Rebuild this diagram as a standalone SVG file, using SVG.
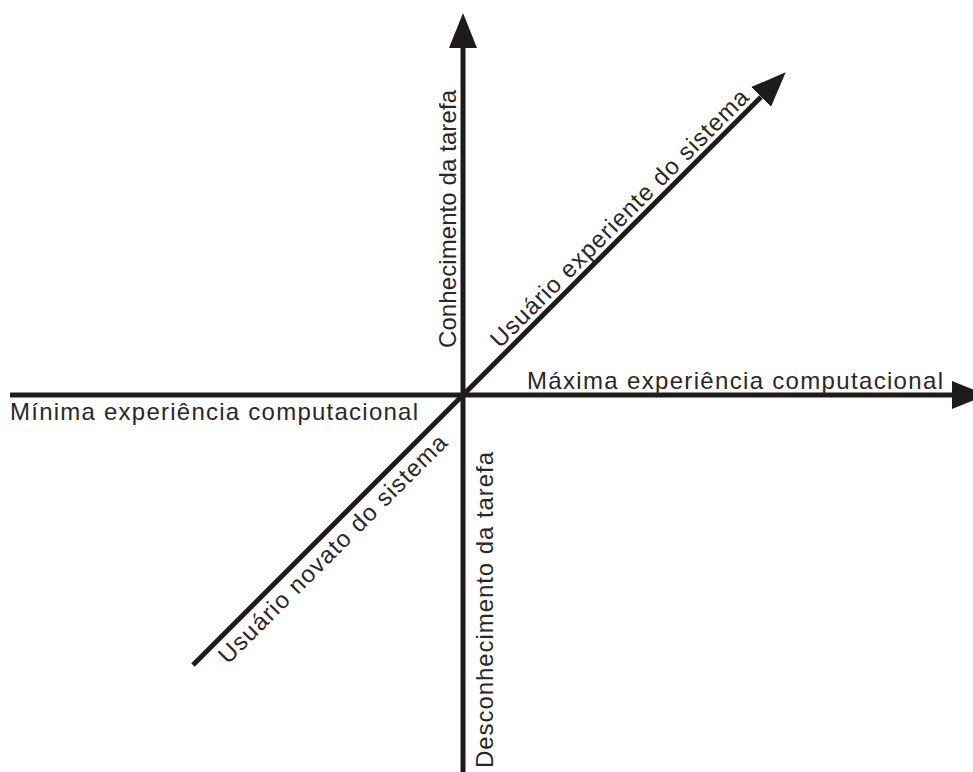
<svg xmlns="http://www.w3.org/2000/svg" width="973" height="772" viewBox="0 0 973 772">
  <style>
    .axis { stroke: #1f1b1c; stroke-width: 5; fill: none; }
    .lbl { font-family: "Liberation Sans", Arial, sans-serif; font-size: 24px; fill: #2b2728; }
  </style>
  <defs>
    <marker id="arrow" markerUnits="userSpaceOnUse" markerWidth="36" markerHeight="30" refX="0" refY="14" orient="auto" viewBox="0 0 36 28">
      <path d="M0,0 L35,14 L0,28 Z" fill="#1f1b1c"/>
    </marker>
  </defs>
  <rect width="973" height="772" fill="#ffffff"/>
  <g id="connectors">
    <line class="axis" x1="463" y1="772" x2="463" y2="48" marker-end="url(#arrow)"/>
    <line class="axis" x1="10" y1="395" x2="952" y2="395" marker-end="url(#arrow)"/>
    <line class="axis" x1="193" y1="665" x2="761" y2="97" marker-end="url(#arrow)"/>
  </g>
  <g id="label-minima">
    <text class="lbl" x="10" y="419.5" textLength="408" lengthAdjust="spacing">Mínima experiência computacional</text>
  </g>
  <g id="label-maxima">
    <text class="lbl" x="527" y="388.5" textLength="416" lengthAdjust="spacing">Máxima experiência computacional</text>
  </g>
  <g id="label-conhecimento">
    <text class="lbl" transform="translate(456,348) rotate(-90)" textLength="258" lengthAdjust="spacing">Conhecimento da tarefa</text>
  </g>
  <g id="label-desconhecimento">
    <text class="lbl" transform="translate(493,768) rotate(-90)" textLength="316" lengthAdjust="spacing">Desconhecimento da tarefa</text>
  </g>
  <g id="label-experiente">
    <text class="lbl" transform="translate(500,349) rotate(-45)" textLength="354" lengthAdjust="spacing">Usuário experiente do sistema</text>
  </g>
  <g id="label-novato">
    <text class="lbl" transform="translate(228,665) rotate(-45)" textLength="312" lengthAdjust="spacing">Usuário novato do sistema</text>
  </g>
</svg>
